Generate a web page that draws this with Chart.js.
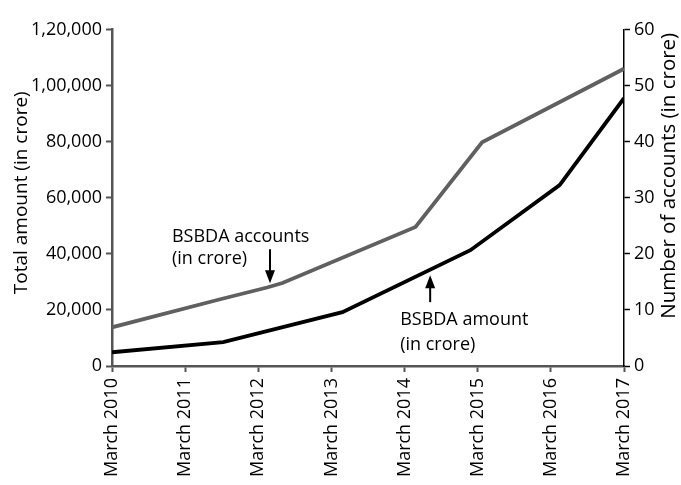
<!DOCTYPE html>
<html>
<head>
<meta charset="utf-8">
<script src="https://cdn.jsdelivr.net/npm/chart.js@4"></script>
<style>
  html, body { margin: 0; padding: 0; background: #fff; }
  #wrap { width: 681px; height: 485px; }
</style>
</head>
<body>
<div id="wrap"><canvas id="chart" width="681" height="485"></canvas></div>
<script>
  // x positions are in years (March of each year at the integer)
  const xTickLabels = ['March 2010', 'March 2011', 'March 2012', 'March 2013',
                       'March 2014', 'March 2015', 'March 2016', 'March 2017'];
  const leftTickLabels = ['0', '20,000', '40,000', '60,000', '80,000', '1,00,000', '1,20,000'];
  const rightTickLabels = ['0', '10', '20', '30', '40', '50', '60'];

  // BSBDA amount (in crore), left axis
  const amountYears  = [2010, 2011.52, 2013.15, 2014.9, 2016.12, 2017];
  const amountValues = [4900, 8500, 19200, 41300, 64500, 95500];

  // BSBDA accounts (in crore), right axis
  const accountYears  = [2010, 2011.48, 2012.12, 2012.33, 2014.15, 2015.06, 2017];
  const accountValues = [6.9, 11.9, 14.0, 14.8, 24.8, 39.9, 53.0];

  const FONT = '"Open Sans", "Noto Sans", sans-serif';
  const AXIS_GREY = '#555555';

  const toPoints = (xs, ys) => xs.map((x, i) => ({ x, y: ys[i] }));

  function arrow(ctx, x, yFrom, yTo) {
    const dir = yTo > yFrom ? 1 : -1;
    ctx.save();
    ctx.strokeStyle = '#000';
    ctx.fillStyle = '#000';
    ctx.lineWidth = 2;
    ctx.beginPath();
    ctx.moveTo(x, yFrom);
    ctx.lineTo(x, yTo - dir * 10);
    ctx.stroke();
    ctx.beginPath();
    ctx.moveTo(x, yTo);
    ctx.lineTo(x - 5, yTo - dir * 13);
    ctx.lineTo(x + 5, yTo - dir * 13);
    ctx.closePath();
    ctx.fill();
    ctx.restore();
  }

  const extras = {
    id: 'extras',
    afterDraw(chart) {
      const { ctx, chartArea, scales } = chart;
      const midY = (chartArea.top + chartArea.bottom) / 2;
      ctx.save();
      ctx.fillStyle = '#000';
      ctx.textAlign = 'center';
      ctx.textBaseline = 'middle';

      ctx.save();
      ctx.font = '19px ' + FONT;
      ctx.translate(22, midY - 5);
      ctx.rotate(-Math.PI / 2);
      ctx.fillText('Total amount (in crore)', 0, 0);
      ctx.restore();

      ctx.save();
      ctx.font = '20.5px ' + FONT;
      ctx.translate(669, midY - 22);
      ctx.rotate(-Math.PI / 2);
      ctx.fillText('Number of accounts (in crore)', 0, 0);
      ctx.restore();

      // annotations, anchored on the lines through the scales
      ctx.font = '18px ' + FONT;
      ctx.textAlign = 'left';

      const ax = scales.x.getPixelForValue(2012.16);
      const ay = scales.yR.getPixelForValue(14.76);
      ctx.fillText('BSBDA accounts', ax - 98, ay - 46);
      ctx.fillText('(in crore)', ax - 98, ay - 24);
      arrow(ctx, ax, ay - 34, ay);

      const bx = scales.x.getPixelForValue(2014.35);
      const by = scales.yL.getPixelForValue(32400);
      ctx.fillText('BSBDA amount', bx - 30, by + 45);
      ctx.fillText('(in crore)', bx - 30, by + 70);
      arrow(ctx, bx, by + 27, by);

      ctx.restore();
    }
  };

  new Chart(document.getElementById('chart'), {
    type: 'line',
    data: {
      datasets: [
        {
          label: 'BSBDA accounts (in crore)',
          data: toPoints(accountYears, accountValues),
          yAxisID: 'yR',
          borderColor: '#606060',
          borderWidth: 3.8,
          pointRadius: 0,
          tension: 0
        },
        {
          label: 'BSBDA amount (in crore)',
          data: toPoints(amountYears, amountValues),
          yAxisID: 'yL',
          borderColor: '#000000',
          borderWidth: 3.8,
          pointRadius: 0,
          tension: 0
        }
      ]
    },
    options: {
      responsive: false,
      animation: false,
      layout: { padding: { top: 29.5, left: 0, right: 0, bottom: 0 } },
      plugins: { legend: { display: false }, tooltip: { enabled: false } },
      scales: {
        x: {
          type: 'linear',
          min: 2010,
          max: 2017,
          ticks: {
            stepSize: 1,
            autoSkip: false,
            minRotation: 90,
            maxRotation: 90,
            padding: 6,
            color: '#000',
            font: { family: FONT, size: 18 },
            callback: v => xTickLabels[Math.round(v - 2010)]
          },
          grid: { drawOnChartArea: false, tickLength: 6, tickColor: AXIS_GREY, tickWidth: 2 },
          border: { color: AXIS_GREY, width: 2.5 },
          afterFit: s => { s.height = 119; }
        },
        yL: {
          position: 'left',
          min: 0,
          max: 120000,
          ticks: {
            stepSize: 20000,
            padding: 4,
            color: '#000',
            font: { family: FONT, size: 18 },
            callback: (v, i) => leftTickLabels[i]
          },
          grid: { drawOnChartArea: false, tickLength: 6, tickColor: AXIS_GREY, tickWidth: 2 },
          border: { color: AXIS_GREY, width: 2.5 },
          afterFit: s => { s.width = 112; }
        },
        yR: {
          position: 'right',
          min: 0,
          max: 60,
          ticks: {
            stepSize: 10,
            padding: 4,
            color: '#000',
            font: { family: FONT, size: 18 },
            callback: (v, i) => rightTickLabels[i]
          },
          grid: { drawOnChartArea: false, tickLength: 6, tickColor: '#000', tickWidth: 1.5 },
          border: { color: '#000', width: 1.5 },
          afterFit: s => { s.width = 57; }
        }
      }
    },
    plugins: [extras]
  });
</script>
</body>
</html>
